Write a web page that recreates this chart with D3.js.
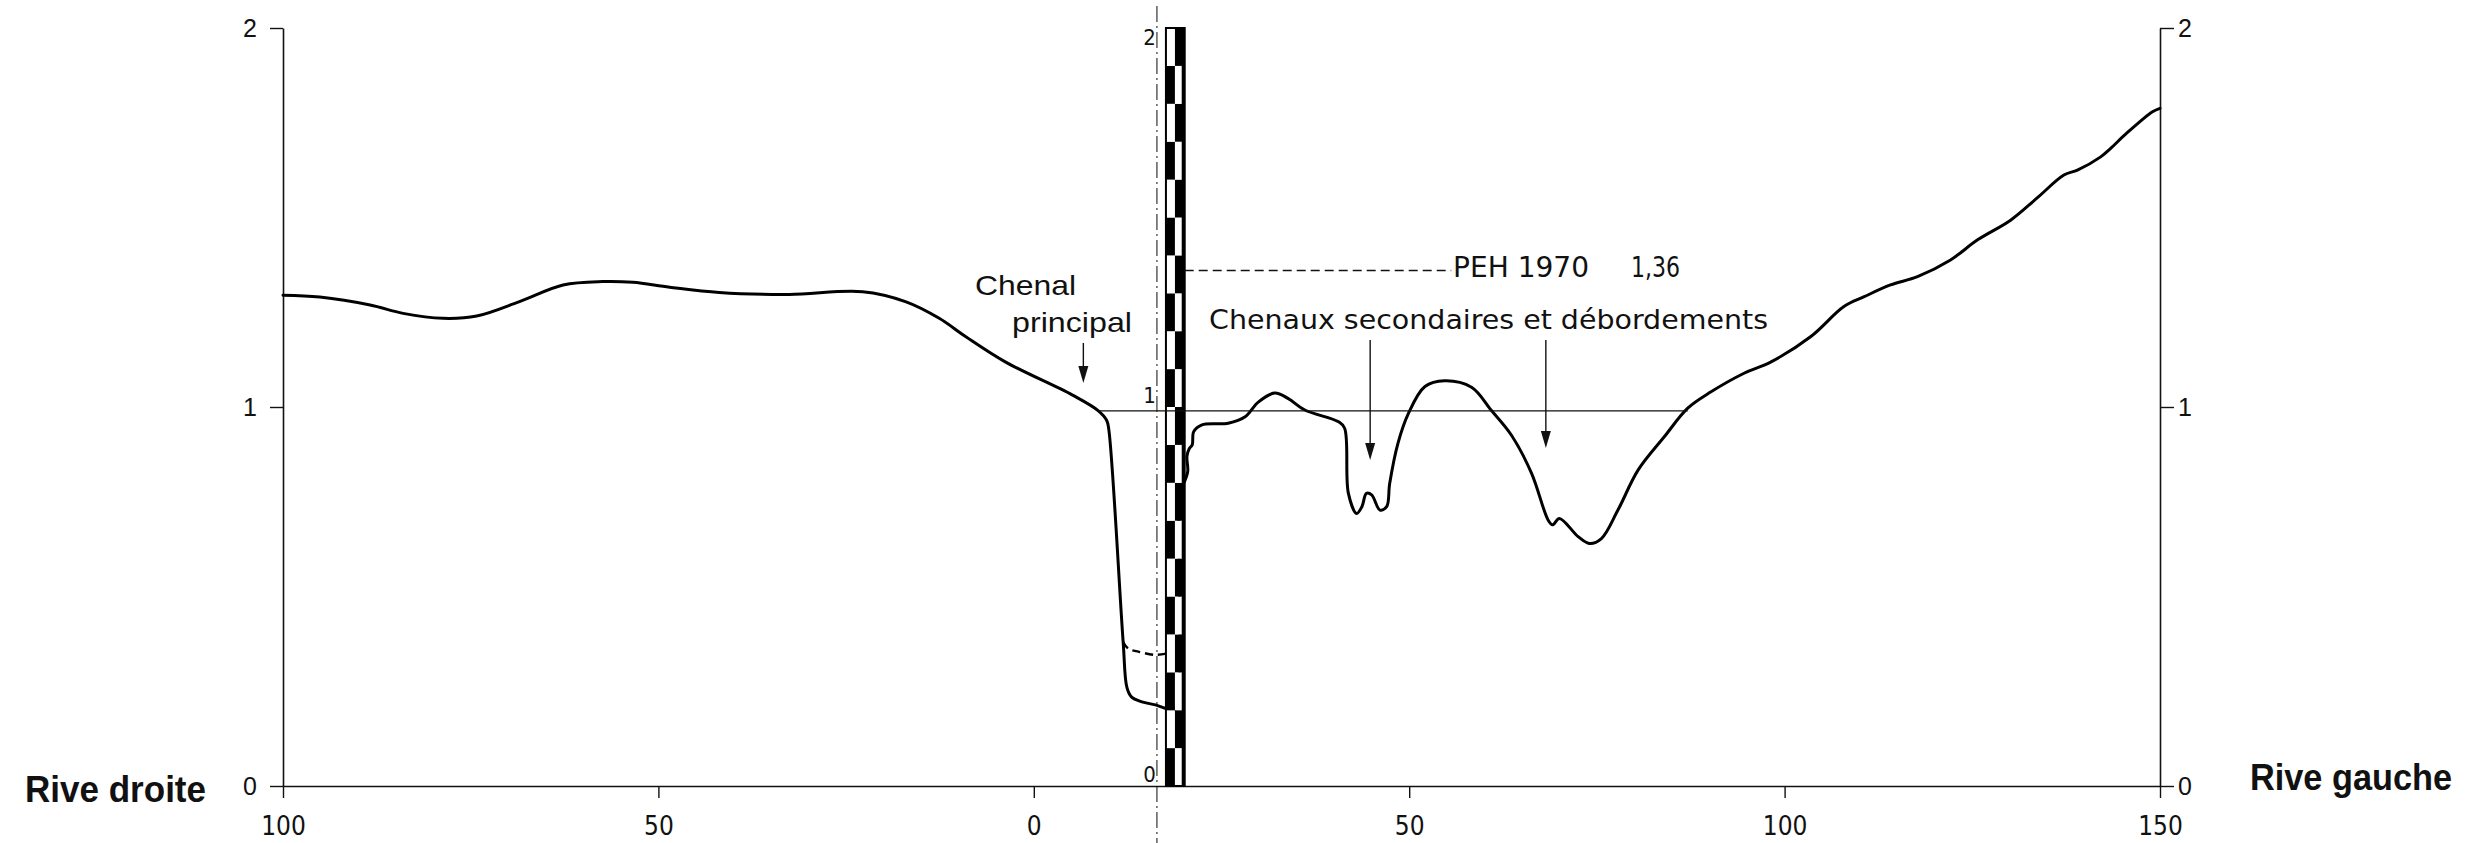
<!DOCTYPE html>
<html><head><meta charset="utf-8">
<script src="https://cdn.jsdelivr.net/npm/d3@7"></script>
<style>html,body{margin:0;padding:0;background:#fff;} svg{display:block;background:#fff}</style>
</head><body><svg id="c" width="2474" height="843"></svg>
<script>
// ---------- data ----------
const X_TICKS = [-100, -50, 0, 50, 100, 150];
const Y_TICKS = [0, 1, 2];
const STAFF_LABELS = [0, 1, 2];

// cross-section profile: distance (m, negative = rive droite side) and elevation (m)
const profileDist = [-100, -95.1, -88.4, -84.0, -78.7, -74.2, -68.5, -62.7, -57.4, -53.4, -48.5, -41.9, -32.6, -22.8, -17.1, -12.6, -9.1, -3.8, 5.1, 8.6, 9.7, 10.0, 11.9, 12.4, 13.0, 14.4, 16.2, 17.5, 18.7, 19.5, 20.0, 20.5, 20.4, 20.7, 21.1, 21.3, 22.4, 25.9, 28.15, 29.9, 32.1, 33.9, 36.1, 40.6, 41.4, 41.9, 43.0, 43.7, 44.3, 45.0, 46.1, 47.0, 47.4, 48.5, 49.9, 52.1, 54.7, 58.3, 60.9, 63.6, 66.3, 68.5, 69.1, 70.0, 72.5, 74.0, 75.6, 77.8, 80.5, 84.0, 87.1, 90.2, 94.6, 98.2, 103.5, 107.9, 110.6, 114.1, 117.7, 122.1, 125.7, 130.1, 133.6, 137.2, 139.0, 142.1, 143.4, 145.6, 149.0, 150];
const profileElev = [1.295, 1.290, 1.269, 1.247, 1.234, 1.240, 1.278, 1.322, 1.331, 1.329, 1.316, 1.302, 1.297, 1.304, 1.278, 1.234, 1.186, 1.119, 1.032, 0.990, 0.965, 0.939, 0.380, 0.260, 0.235, 0.222, 0.214, 0.205, 0.200, 0.780, 0.800, 0.830, 0.870, 0.890, 0.900, 0.935, 0.953, 0.957, 0.974, 1.013, 1.037, 1.022, 0.992, 0.961, 0.944, 0.772, 0.719, 0.737, 0.772, 0.768, 0.728, 0.737, 0.798, 0.904, 0.983, 1.054, 1.069, 1.052, 0.992, 0.926, 0.825, 0.702, 0.689, 0.706, 0.658, 0.640, 0.653, 0.728, 0.834, 0.922, 0.997, 1.040, 1.089, 1.119, 1.186, 1.265, 1.291, 1.322, 1.344, 1.388, 1.441, 1.493, 1.551, 1.612, 1.625, 1.660, 1.682, 1.723, 1.779, 1.788];

// dashed bed line in the main channel
const oldBedDist = [11.9, 12.6, 14.0, 16.2, 18.0];
const oldBedElev = [0.380, 0.362, 0.354, 0.346, 0.351];

const WATER_LEVEL = 0.99;
const WATER_EXTENT = [8.6, 87.1];
const PEH_LEVEL = 1.36;
const PEH_EXTENT = [20.1, 55.6];
const STAFF_X = [17.6, 18.8, 20.1];
const STAFF_STEP = 0.1;
const STAFF_TOP = 2;
const AXIS_REF_X = 16.4;

// annotation arrows: [x, yFrom, yTo]
const arrows = [[6.6, 1.169, 1.063], [44.8, 1.177, 0.860], [68.2, 1.177, 0.892]];

// ---------- drawing ----------
const COND = '"Liberation Sans Narrow","DejaVu Sans Condensed","Liberation Sans",sans-serif';
const REG = '"Liberation Sans",Arial,sans-serif';
const svg = d3.select('#c');
const x = d3.scaleLinear().domain([-100, 150]).range([283, 2160]);
const y = d3.scaleLinear().domain([0, 2]).range([786, 28]);

// reference dash-dot vertical
svg.append('line')
  .attr('x1', x(AXIS_REF_X)).attr('x2', x(AXIS_REF_X))
  .attr('y1', 6).attr('y2', 843)
  .attr('stroke', '#222').attr('stroke-width', 1.1)
  .attr('stroke-dasharray', '16,4,2,4');

// axes
const gx = svg.append('g').attr('transform', `translate(0,${y(0)})`)
  .call(d3.axisBottom(x).tickValues(X_TICKS).tickFormat(d => Math.abs(d))
    .tickSize(12).tickSizeOuter(0).tickPadding(19));
gx.select('.domain').attr('stroke-width', 1.7).attr('stroke', '#111');
gx.selectAll('.tick line').attr('stroke-width', 1.4).attr('stroke', '#111');
gx.selectAll('.tick text').attr('font-family', COND).attr('font-size', 26).attr('fill', '#111');

const gl = svg.append('g').attr('transform', `translate(${x(-100)},0)`)
  .call(d3.axisLeft(y).tickValues(Y_TICKS).tickFormat(d3.format('d'))
    .tickSize(13).tickSizeOuter(0).tickPadding(13));
gl.select('.domain').attr('stroke-width', 1.6).attr('stroke', '#111');
gl.selectAll('.tick line').attr('stroke-width', 1.4).attr('stroke', '#111');
gl.selectAll('.tick text').attr('font-family', REG).attr('font-size', 25).attr('fill', '#111');

const gr = svg.append('g').attr('transform', `translate(${x(150)},0)`)
  .call(d3.axisRight(y).tickValues(Y_TICKS).tickFormat(d3.format('d'))
    .tickSize(14).tickSizeOuter(0).tickPadding(4));
gr.select('.domain').attr('stroke-width', 1.6).attr('stroke', '#111');
gr.selectAll('.tick line').attr('stroke-width', 1.4).attr('stroke', '#111');
gr.selectAll('.tick text').attr('font-family', REG).attr('font-size', 25).attr('fill', '#111');

// profile
const line = d3.line().x(d => x(d[0])).y(d => y(d[1])).curve(d3.curveCatmullRom.alpha(0.5));
const profile = profileDist.map((d, i) => [d, profileElev[i]]);
svg.append('path').attr('d', line(profile))
  .attr('fill', 'none').attr('stroke', '#000').attr('stroke-width', 3)
  .attr('stroke-linejoin', 'round').attr('stroke-linecap', 'round');

const oldBed = oldBedDist.map((d, i) => [d, oldBedElev[i]]);
svg.append('path').attr('d', line(oldBed))
  .attr('fill', 'none').attr('stroke', '#000').attr('stroke-width', 2.4)
  .attr('stroke-dasharray', '8,5');

// staff (échelle)
const segs = d3.range(Math.round(STAFF_TOP / STAFF_STEP));
const gs = svg.append('g');
segs.forEach(i => {
  const y0 = y(i * STAFF_STEP), y1 = y((i + 1) * STAFF_STEP);
  gs.append('rect').attr('x', x(STAFF_X[0])).attr('width', x(STAFF_X[1]) - x(STAFF_X[0]))
    .attr('y', y1).attr('height', y0 - y1).attr('fill', i % 2 === 0 ? '#000' : '#fff');
  gs.append('rect').attr('x', x(STAFF_X[1])).attr('width', x(STAFF_X[2]) - x(STAFF_X[1]))
    .attr('y', y1).attr('height', y0 - y1).attr('fill', i % 2 === 1 ? '#000' : '#fff');
});
gs.append('rect').attr('x', x(STAFF_X[0])).attr('width', x(STAFF_X[2]) - x(STAFF_X[0]))
  .attr('y', y(STAFF_TOP)).attr('height', y(0) - y(STAFF_TOP))
  .attr('fill', 'none').attr('stroke', '#000').attr('stroke-width', 2);
gs.append('line').attr('x1', x(STAFF_X[2]) - 1.5).attr('x2', x(STAFF_X[2]) - 1.5)
  .attr('y1', y(STAFF_TOP)).attr('y2', y(0)).attr('stroke', '#000').attr('stroke-width', 3);

// staff labels
svg.append('g').selectAll('text').data(STAFF_LABELS).join('text')
  .attr('x', x(STAFF_X[0]) - 10)
  .attr('y', d => y(d) + (d === STAFF_TOP ? 17 : -4))
  .attr('text-anchor', 'end').attr('font-family', COND).attr('font-size', 22)
  .attr('fill', '#111').text(d => d);

// water level
svg.append('line')
  .attr('x1', x(WATER_EXTENT[0])).attr('x2', x(WATER_EXTENT[1]))
  .attr('y1', y(WATER_LEVEL)).attr('y2', y(WATER_LEVEL))
  .attr('stroke', '#111').attr('stroke-width', 1.3);

// PEH 1970
svg.append('line')
  .attr('x1', x(PEH_EXTENT[0])).attr('x2', x(PEH_EXTENT[1]))
  .attr('y1', y(PEH_LEVEL)).attr('y2', y(PEH_LEVEL))
  .attr('stroke', '#111').attr('stroke-width', 1.6).attr('stroke-dasharray', '9,5');

// arrows
arrows.forEach(([ax, a0, a1]) => {
  const X = x(ax), Y0 = y(a0), Y1 = y(a1);
  svg.append('line').attr('x1', X).attr('x2', X).attr('y1', Y0).attr('y2', Y1 - 12)
    .attr('stroke', '#111').attr('stroke-width', 1.4);
  svg.append('path').attr('d', `M${X - 5},${Y1 - 17}L${X + 5},${Y1 - 17}L${X},${Y1}Z`).attr('fill', '#111');
});

// texts
function txt(s, px, py, fam, size, len, weight) {
  svg.append('text').attr('x', px).attr('y', py).attr('font-family', fam)
    .attr('font-size', size).attr('font-weight', weight || 'normal')
    .attr('textLength', len).attr('lengthAdjust', 'spacingAndGlyphs')
    .attr('fill', '#111').text(s);
}
txt('Chenal', 975, 295, REG, 28, 101);
txt('principal', 1012, 332, REG, 28, 120);
txt('PEH 1970', 1453, 277, COND, 28, 136);
txt('1,36', 1631, 277, COND, 28, 49);
txt('Chenaux secondaires et débordements', 1209, 329, COND, 27, 559);
txt('Rive droite', 25, 802, REG, 37, 181, 'bold');
txt('Rive gauche', 2250, 790, REG, 37, 202, 'bold');
</script>
</body></html>
